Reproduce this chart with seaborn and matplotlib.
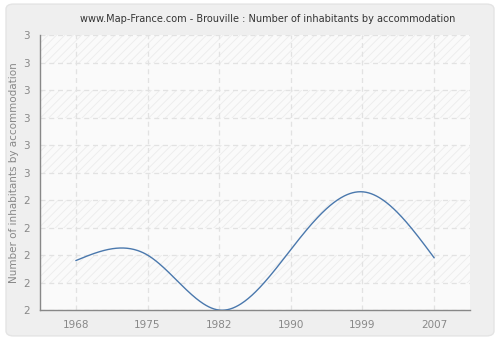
import numpy as np
import pandas as pd
import seaborn as sns
import matplotlib
matplotlib.use("Agg")
import matplotlib.pyplot as plt
from matplotlib.patches import FancyBboxPatch

years = ["1968", "1975", "1982", "1990", "1999", "2007"]
values = [2.18, 2.20, 2.00, 2.22, 2.43, 2.19]
ytick_values = [2.0, 2.1, 2.2, 2.3, 2.4, 2.5, 2.6, 2.7, 2.8, 2.9, 3.0]
ytick_labels = ["2", "2", "2", "2", "2", "3", "3", "3", "3", "3", "3"]
title = "www.Map-France.com - Brouville : Number of inhabitants by accommodation"
ylabel = "Number of inhabitants by accommodation"


def natural_spline(x, y, n=400):
    x = np.asarray(x, float)
    y = np.asarray(y, float)
    k = len(x)
    h = np.diff(x)
    A = np.zeros((k, k))
    b = np.zeros(k)
    A[0, 0] = A[-1, -1] = 1
    for i in range(1, k - 1):
        A[i, i - 1] = h[i - 1]
        A[i, i] = 2 * (h[i - 1] + h[i])
        A[i, i + 1] = h[i]
        b[i] = 3 * ((y[i + 1] - y[i]) / h[i] - (y[i] - y[i - 1]) / h[i - 1])
    c = np.linalg.solve(A, b)
    xs = np.linspace(x[0], x[-1], n)
    ys = np.empty_like(xs)
    for j, xv in enumerate(xs):
        i = min(np.searchsorted(x, xv, side="right") - 1, k - 2)
        d = xv - x[i]
        bi = (y[i + 1] - y[i]) / h[i] - h[i] * (2 * c[i] + c[i + 1]) / 3
        di = (c[i + 1] - c[i]) / (3 * h[i])
        ys[j] = y[i] + bi * d + c[i] * d ** 2 + di * d ** 3
    return xs, ys


idx = np.arange(len(years))
xs, ys = natural_spline(idx, values)
df = pd.DataFrame({"x": xs, "y": ys})

sns.set_theme(style="white")
plt.rcParams["font.family"] = ["DejaVu Sans"]
plt.rcParams["hatch.linewidth"] = 0.6

fig = plt.figure(figsize=(5, 3.4), dpi=100)
fig.patch.set_facecolor("white")
box = FancyBboxPatch((0.012, 0.012), 0.976, 0.976,
                     boxstyle="round,pad=0,rounding_size=0.015",
                     transform=fig.transFigure, facecolor="#efefef",
                     edgecolor="#e4e4e4", linewidth=1, zorder=-10)
fig.patches.append(box)

ax = fig.add_axes([0.08, 0.088, 0.86, 0.809])
ax.set_zorder(1)
ax.set_facecolor("#fafafa")

for i in range(10):
    lo = 2.0 + i * 0.1
    if i % 2 == 1:
        ax.axhspan(lo, lo + 0.1, facecolor="none", edgecolor="#ececec",
                   hatch="////", linewidth=0, zorder=0)

sns.lineplot(data=df, x="x", y="y", ax=ax, color="#4a78ad", linewidth=1.0, zorder=3)

ax.set_xlim(-0.5, 5.5)
ax.set_ylim(2.0, 3.0)
ax.set_xticks(idx)
ax.set_xticklabels(years)
ax.set_yticks(ytick_values)
ax.set_yticklabels(ytick_labels)
ax.grid(True, color="#e2e2e2", linestyle=(0, (4, 3)), linewidth=0.9)
ax.set_axisbelow(True)

for s in ["top", "right"]:
    ax.spines[s].set_visible(False)
for s in ["left", "bottom"]:
    ax.spines[s].set_color("#888888")
    ax.spines[s].set_linewidth(1)

ax.tick_params(axis="both", colors="#888888", labelsize=7.5, length=4, width=0.8,
               direction="out", labelcolor="#888888")
ax.tick_params(axis="y", pad=3)
ax.set_xlabel("")
ax.set_ylabel(ylabel, color="#888888", fontsize=7.5, labelpad=3)
fig.text(0.535, 0.945, title, ha="center", va="center", fontsize=7.0, color="#333333")

fig.savefig("out.png", dpi=100, facecolor=fig.get_facecolor())
